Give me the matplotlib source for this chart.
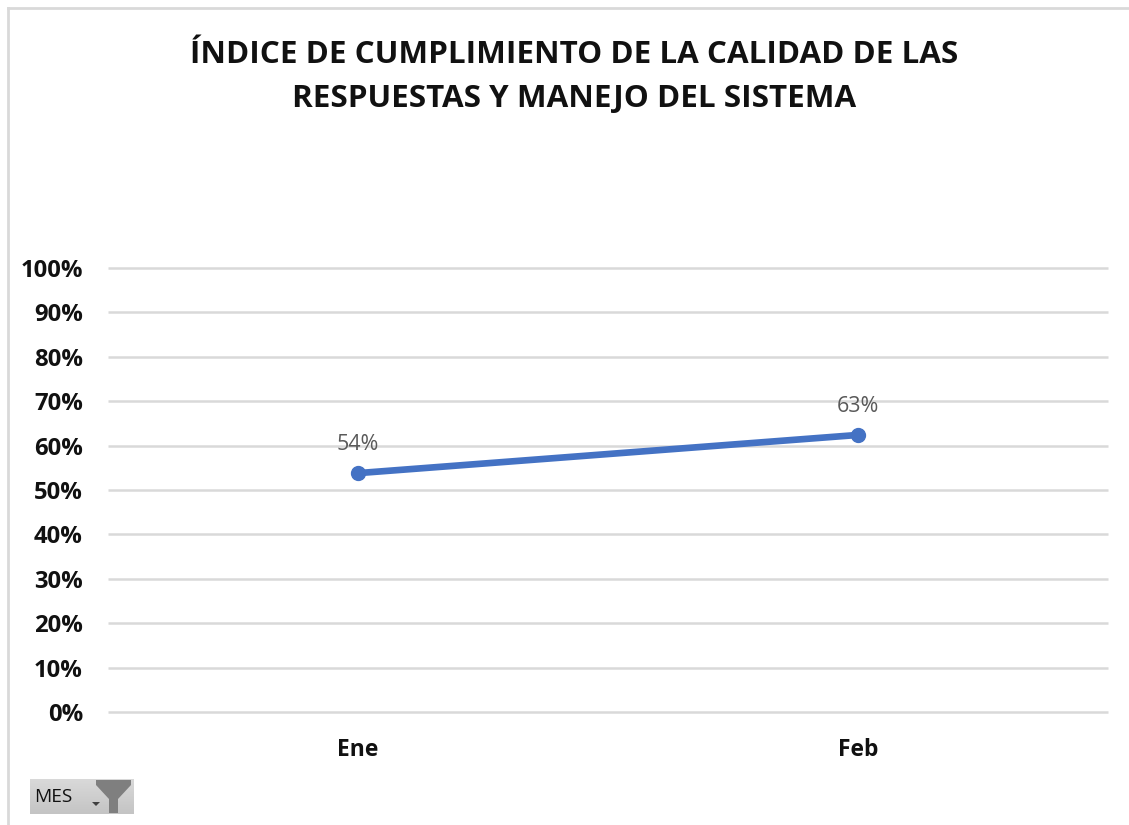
import matplotlib
matplotlib.use("Agg")
import matplotlib.pyplot as plt
from matplotlib.patches import Polygon
from matplotlib.lines import Line2D
import numpy as np

title = "ÍNDICE DE CUMPLIMIENTO DE LA CALIDAD DE LAS\nRESPUESTAS Y MANEJO DEL SISTEMA"
months = ["Ene", "Feb"]
values = [0.538, 0.624]
point_labels = ["54%", "63%"]
y_ticks = [0, .1, .2, .3, .4, .5, .6, .7, .8, .9, 1.0]
y_tick_labels = ["0%", "10%", "20%", "30%", "40%", "50%", "60%", "70%", "80%", "90%", "100%"]

W, H = 1129, 825
FONT = "Open Sans"
fig = plt.figure(figsize=(W / 100, H / 100), dpi=100, facecolor="white")

def fx(px): return px / W
def fy(py): return 1 - py / H

ax = fig.add_axes([fx(108), fy(712), (1108 - 108) / W, (712 - 268) / H])
ax.set_xlim(-0.5, 1.5)
ax.set_ylim(0, 1)
ax.patch.set_alpha(0)
for s in ax.spines.values():
    s.set_visible(False)
ax.set_axisbelow(True)
ax.yaxis.grid(True, color="#d9d9d9", lw=1.8)
ax.xaxis.grid(False)
ax.set_yticks(y_ticks)
ax.set_yticklabels(y_tick_labels, fontfamily=FONT, fontweight="bold", fontsize=17.2, color="#111111")
ax.set_xticks(range(len(months)))
ax.set_xticklabels(months, fontfamily=FONT, fontweight="bold", fontsize=16.5, color="#111111")
ax.tick_params(axis="both", length=0)
ax.tick_params(axis="y", pad=18)
ax.tick_params(axis="x", pad=19)
for gl in ax.get_ygridlines():
    gl.set_clip_on(False)
    gl.set_solid_capstyle("butt")

ax.plot(range(len(months)), values, color="#4472c4", lw=4.8, marker="o", ms=10,
        solid_capstyle="round", clip_on=False, zorder=3)
for i, (v, lab) in enumerate(zip(values, point_labels)):
    ax.annotate(lab, (i, v), xytext=(0, 13), textcoords="offset points", ha="center", va="bottom",
                fontfamily=FONT, fontsize=15.4, color="#595959")

fig.text(fx(574.5), fy(77), title, ha="center", va="center", fontfamily=FONT, fontweight="bold",
         fontsize=22.6, color="#111111", linespacing=1.63)

# Outer frame of the screenshot
fig.add_artist(Line2D([fx(8), fx(8)], [fy(8), 0], color="#d9d9d9", lw=2))
fig.add_artist(Line2D([fx(8), 1], [fy(8), fy(8)], color="#d9d9d9", lw=2))

# Field button "MES"
bx = fig.add_axes([fx(30), fy(814), 104 / W, 35 / H])
bx.set_xlim(30, 134)
bx.set_ylim(814, 779)
bx.axis("off")
grad = np.linspace(0, 1, 40).reshape(-1, 1)
bx.imshow(grad, extent=(30, 134, 814, 779), aspect="auto", origin="upper",
          cmap=matplotlib.colors.LinearSegmentedColormap.from_list("b", ["#d9d9d9", "#c4c4c4"]))
bx.add_patch(Polygon([(96, 780), (131, 780), (131, 785), (118, 799), (118, 813),
                      (109, 813), (109, 799), (96, 785)],
                     closed=True, color="#7f7f7f", lw=0))
bx.add_patch(Polygon([(92, 802), (100, 802), (96, 806)], closed=True, color="#404040", lw=0))
bx.text(34, 797, "MES", ha="left", va="center", fontfamily=FONT, fontsize=13.8, color="#111111")

fig.savefig("out.png", dpi=100, facecolor="white")
